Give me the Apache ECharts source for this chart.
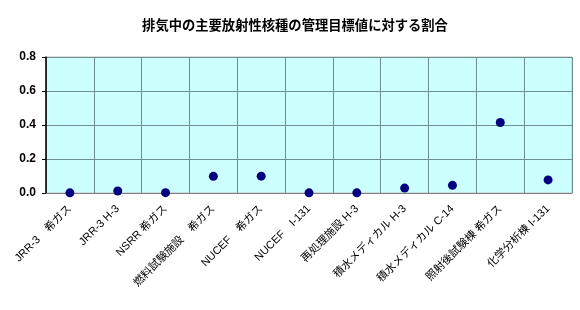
<!DOCTYPE html>
<html><head><meta charset="utf-8">
<script src="https://cdn.jsdelivr.net/npm/echarts@6/dist/echarts.min.js"></script>
<style>html,body{margin:0;padding:0;background:#fff}#c{width:580px;height:310px}</style>
</head><body><div id="c"></div>
<script>
const title = '排気中の主要放射性核種の管理目標値に対する割合';
const categories = ['JRR-3　希ガス','JRR-3 H-3','NSRR 希ガス','燃料試験施設　希ガス','NUCEF　希ガス','NUCEF　I-131','再処理施設 H-3','積水メディカル H-3','積水メディカル C-14','照射後試験棟 希ガス','化学分析棟 I-131'];
const values = [0.001, 0.012, 0.002, 0.098, 0.099, 0.001, 0.001, 0.029, 0.045, 0.415, 0.077];
const yTicks = [0, 0.2, 0.4, 0.6, 0.8];

const chart = echarts.init(document.getElementById('c'), null, {renderer:'canvas'});
chart.setOption({
  animation:false,
  title:{text:title,left:290,textAlign:'center',top:13,textStyle:{fontFamily:'Noto Sans CJK JP',fontSize:13.3,fontWeight:'bold',color:'#000'}},
  grid:{left:46,right:8,top:57,bottom:117,show:true,backgroundColor:'#ccffff',borderColor:'#c0c0c0',borderWidth:1},
  xAxis:{type:'category',data:categories,boundaryGap:true,
    axisLine:{lineStyle:{color:'#808080',width:1}},
    axisTick:{show:false},
    splitLine:{show:true,lineStyle:{color:'#6f8f8f',width:1}},
    axisLabel:{rotate:45,interval:0,margin:14,fontFamily:'Liberation Sans, Noto Sans CJK JP',fontSize:11,color:'#000'}},
  yAxis:{type:'value',min:yTicks[0],max:yTicks[yTicks.length-1],interval:0.2,
    axisLine:{show:true,lineStyle:{color:'#000',width:1.5}},
    axisTick:{show:true,length:4,lineStyle:{color:'#000'}},
    splitLine:{show:true,lineStyle:{color:'#6f8f8f',width:1}},
    axisLabel:{formatter:v=>v.toFixed(1),fontFamily:'Liberation Sans',fontWeight:'bold',fontSize:12,color:'#000',margin:10}},
  series:[{type:'scatter',data:values,symbol:'circle',symbolSize:9,itemStyle:{color:'#000080',opacity:1}}]
});
</script></body></html>
